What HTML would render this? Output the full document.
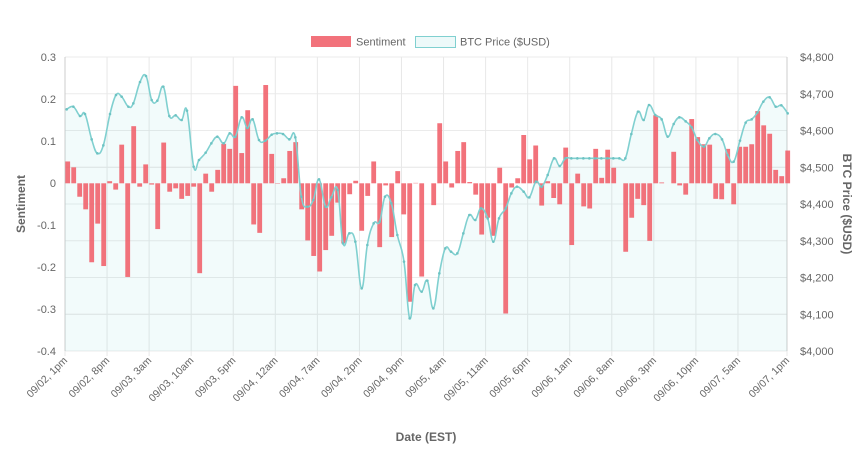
<!DOCTYPE html>
<html><head><meta charset="utf-8"><style>
body{margin:0;background:#fff;width:865px;height:453px;overflow:hidden}
svg{font-family:"Liberation Sans",sans-serif;}
</style></head><body>
<svg id="s" width="865" height="453" xmlns="http://www.w3.org/2000/svg"></svg>
<script>
const s=document.getElementById('s');let h='';
const L=65,R=787,T=57,B=351;
const yv=v=>183.3-v*420;
// grid horizontal
const lv=[0.3,0.2,0.1,0,-0.1,-0.2,-0.3,-0.4];
const rv=['$4,800','$4,700','$4,600','$4,500','$4,400','$4,300','$4,200','$4,100','$4,000'];
for(let i=0;i<=8;i++){const y=T+i*(B-T)/8;h+=`<line x1="${L}" x2="${R}" y1="${y}" y2="${y}" stroke="${i==3||i==7?'#e6e6e6':'#ebebeb'}"/>`;
h+=`<text x="800" y="${y+4}" font-size="11" fill="#666">${rv[i]}</text>`;}
lv.forEach((v,i)=>{const y=T+i*42;h+=`<text x="56" y="${y+4}" font-size="11" fill="#666" text-anchor="end">${v}</text>`;});
// vertical grid + labels
const labs=['09/02, 1pm','09/02, 8pm','09/03, 3am','09/03, 10am','09/03, 5pm','09/04, 12am','09/04, 7am','09/04, 2pm','09/04, 9pm','09/05, 4am','09/05, 11am','09/05, 6pm','09/06, 1am','09/06, 8am','09/06, 3pm','09/06, 10pm','09/07, 5am','09/07, 1pm'];
labs.forEach((t,i)=>{const x=i<17?L+i*42.06:R;h+=`<line x1="${x}" x2="${x}" y1="${T}" y2="${B+5}" stroke="#e8e8e8"/>`;
h+=`<text transform="translate(${x+3},${B+10}) rotate(-45)" font-size="10.5" fill="#666" text-anchor="end">${t}</text>`;});
h+=`<line x1="${L}" x2="${L}" y1="${T}" y2="${B}" stroke="#ccc"/><line x1="${R}" x2="${R}" y1="${T}" y2="${B}" stroke="#ccc"/>`;
// price line
const z1=[[80,208],[100,200],[120,228],[135,222],[155,298],[172,340],[190,316],[210,222],[228,165],[245,170],[265,200],[280,190],[300,126],[318,108],[335,180],[352,182],[370,140],[388,228],[407,226],[425,240],[441,212],[461,380],[477,360],[497,338],[514,310],[532,290],[551,310],[569,280],[586,290],[605,232],[622,264],[638,238],[657,300],[676,302],[695,284],[711,280],[729,282],[748,298],[766,292],[784,470],[802,500],[820,480],[837,418],[857,500],[874,472],[893,450],[909,610],[928,580],[946,605],[965,745],[982,615],[1001,550],[1019,545],[1035,470],[1054,490],[1072,585],[1092,665],[1109,835]];
let z2=[[15,735],[35,755],[52,722],[70,805],[88,700],[106,625],[123,635],[142,640],[160,580],[178,525],[196,540],[213,505],[233,535],[250,605],[267,535],[287,505],[304,460],[321,440],[341,455],[358,472],[378,425],[395,440],[413,405],[432,355],[449,378],[466,355]];
for(let x=484;x<=646;x+=18)z2.push([x,355]);
z2=z2.concat([[664,282],[684,215],[701,240],[717,195],[736,225],[755,238],[773,290],[791,252],[808,232],[827,244],[845,262],[862,300],[882,320],[898,295],[916,282],[936,298],[953,345],[971,365],[990,302],[1007,248],[1025,238],[1042,218],[1060,185],[1079,172],[1097,200],[1114,196],[1133,220]]);
const P=z1.map(p=>[40+p[0]/3,40+p[1]/3]).concat(z2.map(p=>[410+p[0]/3,40+p[1]/3]));
let d=`M${P[0][0]},${P[0][1]}`;
for(let i=0;i<P.length-1;i++){const p0=P[Math.max(0,i-1)],p1=P[i],p2=P[i+1],p3=P[Math.min(P.length-1,i+2)];const k=0.4/2;
d+=` C${p1[0]+(p2[0]-p0[0])*k},${p1[1]+(p2[1]-p0[1])*k} ${p2[0]-(p3[0]-p1[0])*k},${p2[1]-(p3[1]-p1[1])*k} ${p2[0]},${p2[1]}`;}
const last=P[P.length-1];
h+=`<path d="M${L},${B} L${L},${P[0][1]} L${P[0][0]},${P[0][1]} ${d.slice(d.indexOf('C'))} L${R},${last[1]} L${R},${B} Z" fill="rgba(75,192,192,0.07)"/>`;
// bars
const bv=[.052,.038,-.032,-.062,-.188,-.096,-.197,.005,-.015,.092,-.223,.136,-.008,.045,-.003,-.109,.097,-.02,-.012,-.037,-.03,-.008,-.214,.023,-.02,.032,.094,.082,.232,.072,.174,-.098,-.118,.234,.07,-.001,.012,.077,.098,-.062,-.136,-.173,-.21,-.159,-.125,-.046,-.143,-.026,.006,-.113,-.03,.052,-.152,-.005,-.128,.029,-.074,-.282,
.001,-.222,0,-.052,.143,.052,-.01,.077,.098,.003,-.027,-.122,-.082,-.125,.037,-.31,-.01,.012,.115,.057,.09,-.053,.005,-.035,-.05,.085,-.147,.023,-.055,-.06,.082,.013,.08,.037,0,-.163,-.082,-.037,-.052,-.137,.162,.002,0,.075,-.005,-.027,.153,.11,.093,.092,-.037,-.038,.082,-.05,.087,.087,.093,.172,.138,.118,.032,.017,.078];
bv.forEach((v,i)=>{const x=67.7+i*6;const y0=yv(0),y1=yv(v);h+=`<rect x="${x-2.4}" y="${Math.min(y0,y1)}" width="4.8" height="${Math.abs(y1-y0)}" fill="rgba(240,95,105,0.88)"/>`;});
h+=`<path d="${d}" fill="none" stroke="rgb(128,208,208)" stroke-width="1.6"/>`;
P.forEach(p=>h+=`<circle cx="${p[0]}" cy="${p[1]}" r="1.3" fill="rgb(110,195,195)"/>`);
// titles
h+=`<text transform="translate(25,204) rotate(-90)" font-size="12" font-weight="bold" fill="#666" text-anchor="middle">Sentiment</text>`;
h+=`<text transform="translate(843,204) rotate(90)" font-size="12" font-weight="bold" fill="#666" text-anchor="middle">BTC Price ($USD)</text>`;
h+=`<text x="426" y="441" font-size="12" font-weight="bold" fill="#666" text-anchor="middle">Date (EST)</text>`;
// legend
h+=`<rect x="311" y="36" width="40" height="11" fill="rgba(240,95,105,0.88)"/><text x="356" y="45.5" font-size="11" fill="#666">Sentiment</text>`;
h+=`<rect x="415.5" y="36.5" width="40" height="11" fill="rgba(75,192,192,0.1)" stroke="rgb(128,208,208)"/><text x="460" y="45.5" font-size="11" fill="#666">BTC Price ($USD)</text>`;
s.innerHTML=h;
</script>
</body></html>
